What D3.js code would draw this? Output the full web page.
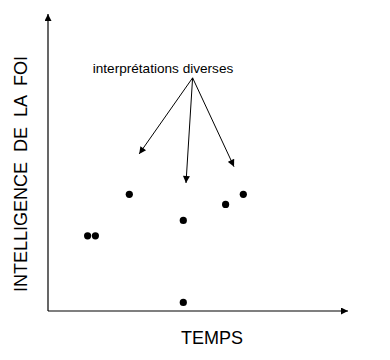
<!DOCTYPE html>
<html><head><meta charset="utf-8">
<script src="https://cdn.jsdelivr.net/npm/d3@7"></script>
<style>html,body{margin:0;padding:0;background:#fff;}svg{display:block;font-family:"Liberation Sans",Arial,sans-serif;}</style>
</head><body>
<svg id="c" width="390" height="360"></svg>
<script>
// data
const pointsX = [1.32, 1.58, 2.71, 4.51, 4.51, 5.92, 6.51];
const pointsY = [2.53, 2.53, 3.93, 3.05, 0.29, 3.59, 3.93];
const arrowFrom = [4.82, 7.85];
const arrowTipsX = [3.04, 4.60, 6.20];
const arrowTipsY = [5.29, 4.31, 4.86];
const xLabel = "TEMPS";
const yLabel = "INTELLIGENCE  DE  LA  FOI";
const annotation = "interprétations diverses";

const svg = d3.select("#c");
const x = d3.scaleLinear().domain([0, 10]).range([48, 348]);
const y = d3.scaleLinear().domain([0, 10]).range([311, 14]);

const defs = svg.append("defs");
defs.append("marker").attr("id","ah").attr("viewBox","0 0 10 10").attr("refX",10).attr("refY",5)
  .attr("markerWidth",9).attr("markerHeight",7).attr("markerUnits","userSpaceOnUse").attr("orient","auto")
  .append("path").attr("d","M0,0 L10,5 L0,10 z").attr("fill","#000");

// axes (no ticks)
svg.append("line").attr("x1", x(0)).attr("y1", y(0)).attr("x2", x(0)).attr("y2", y(10))
  .attr("stroke","#000").attr("stroke-width",1.2).attr("marker-end","url(#ah)");
svg.append("line").attr("x1", x(0)).attr("y1", y(0)).attr("x2", x(10)).attr("y2", y(0))
  .attr("stroke","#000").attr("stroke-width",1.2).attr("marker-end","url(#ah)");

// points
svg.selectAll("circle.p").data(pointsX.map((v,i)=>[v, pointsY[i]])).join("circle")
  .attr("class","p").attr("cx", d=>x(d[0])).attr("cy", d=>y(d[1])).attr("r",3.6).attr("fill","#000");

// arrows
svg.selectAll("line.a").data(arrowTipsX.map((v,i)=>[v, arrowTipsY[i]])).join("line")
  .attr("class","a").attr("x1", x(arrowFrom[0])).attr("y1", y(arrowFrom[1]))
  .attr("x2", d=>x(d[0])).attr("y2", d=>y(d[1]))
  .attr("stroke","#000").attr("stroke-width",1).attr("marker-end","url(#ah)");

// annotation
svg.append("text").attr("x",163).attr("y",73).attr("text-anchor","middle")
  .attr("font-size",13.6).attr("fill","#000").text(annotation);

// axis labels
svg.append("text").attr("x",212).attr("y",344).attr("text-anchor","middle")
  .attr("font-size",18).attr("fill","#000").text(xLabel);
svg.append("text").attr("transform","translate(27,174) rotate(-90)").attr("text-anchor","middle")
  .attr("font-size",18).attr("fill","#000").style("white-space","pre").text(yLabel);
</script>
</body></html>
